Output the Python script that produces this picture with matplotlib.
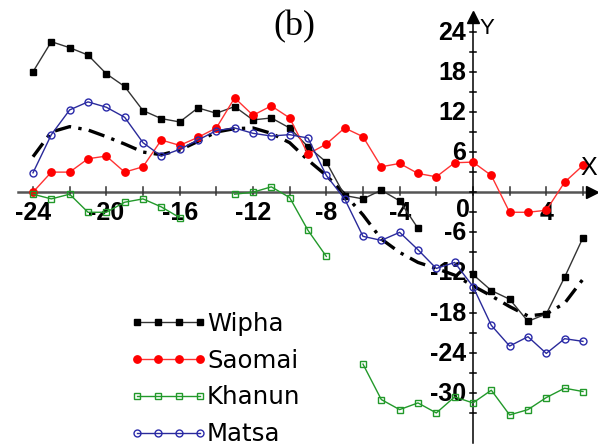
import numpy as np
import matplotlib
matplotlib.use("Agg")
import matplotlib.pyplot as plt
from matplotlib.lines import Line2D
from matplotlib.legend_handler import HandlerLine2D

nan = np.nan
hours = list(range(-24, 7))

wipha = [18, 22.5, 21.6, 20.5, 17.7, 15.8, 12.2, 11, 10.5, 12.6, 11.8, 12.8, 10.8, 11.1, 9.6,
         6.8, 4.5, -0.5, -1, 0.3, -1.3, -5.4, nan, nan, -12.3, -14.7, -16, -19.3, -18.2, -12.7, -6.8]
saomai = [0, 3, 3, 5, 5.4, 3, 3.8, 7.8, 7, 8.2, 9.6, 14.1, 11.5, 12.9, 11.1,
          5.7, 7.2, 9.6, 8.3, 3.8, 4.3, 2.8, 2.3, 4.4, 4.5, 2.5, -3, -3, -2.7, 1.5, 4]
khanun = [-0.3, -1, -0.3, -3, -3, -1.5, -1, -2.2, -3.8, nan, nan, -0.3, 0, 0.8, -0.8,
          -5.7, -9.6, nan, -25.7, -31, -32.5, -31.5, -33, -30.6, -31.5, -29.6, -33.3, -32.5, -30.7, -29.3, -29.8]
matsa = [2.9, 8.6, 12.3, 13.5, 12.7, 11.2, 7.4, 5.4, 6.4, 7.8, 9.2, 9.6, 8.8, 8.4, 8.6,
         8.1, 2.5, -1, -6.6, -7.2, -6, -8.6, -11.4, -10.5, -14.1, -19.9, -23, -21.6, -24.1, -21.9, -22.3]
mean_curve = [5.3, 9, 9.8, 9.3, 8.3, 7.2, 6, 5.6, 6.3, 7.6, 9, 9.5, 9.6, 8.8, 7.4,
              4.8, 2.5, -0.3, -3.4, -7, -9, -10.5, -11.4, -12.4, -14, -15.5, -17.1, -18.5, -18.2, -16.6, -13]

xtick_labels = ["-24", "-20", "-16", "-12", "-8", "-4", "4"]
xtick_pos = [-24, -20, -16, -12, -8, -4, 4]
ytick_labels = ["24", "18", "12", "6", "-6", "-12", "-18", "-24", "-30"]
ytick_pos = [24, 18, 12, 6, -6, -12, -18, -24, -30]

fig = plt.figure(figsize=(5.98, 4.47), dpi=100)
ax = fig.add_axes([0, 0, 1, 1])
ax.set_xlim(-25.80, 6.82)
ax.set_ylim(-38.09, 28.73)
ax.axis('off')

# axes
ax.plot([-24.8, 6.4], [0, 0], color='#555555', lw=1.8, zorder=1)
ax.plot(6.5, 0, marker='>', ms=9, color='k', zorder=1)
for t in range(-24, 7, 2):
    ax.plot([t, t], [-0.4, 0.8], color='#333333', lw=1.1, zorder=1)
ax.plot([0, 0], [-37.5, 25.8], color='k', lw=1.1, zorder=1)
ax.plot(0, 26.2, marker='^', ms=8, color='k', zorder=1)
for t in range(-33, 25, 3):
    ax.plot([-0.18, 0.18], [t, t], color='k', lw=1.1, zorder=1)

tickfont = dict(family='Liberation Sans', weight='bold', size=18)
for p, l in zip(xtick_pos, xtick_labels):
    ax.text(p, -3.1, l, ha='center', va='center', zorder=0, **tickfont)
for p, l in zip(ytick_pos, ytick_labels):
    ax.text(-0.38, p - 0.15, l, ha='right', va='center', zorder=0, **tickfont)
ax.text(-0.15, -2.7, "0", ha='right', va='center', zorder=0, **tickfont)

# mean curve
ax.plot(hours, mean_curve, color='k', lw=2.4, linestyle=(0, (5, 2.2, 1, 2.2)), zorder=3)

lw = 1.0
ax.plot(hours, wipha, color='#333333', lw=lw, marker='s', ms=5, mfc='k', mec='k', label='Wipha', zorder=4)
ax.plot(hours, saomai, color='#ff3333', lw=lw, marker='o', ms=5.3, mfc='#ff0000', mec='#ff0000', label='Saomai', zorder=4)
ax.plot(hours, khanun, color='#22992a', lw=lw, marker='s', ms=5, mfc='none', mec='#22992a', mew=1.0, label='Khanun', zorder=4)
ax.plot(hours, matsa, color='#2a2a9a', lw=lw, marker='o', ms=5, mfc='none', mec='#2a2aaa', mew=1.0, label='Matsa', zorder=4)

leg = ax.legend(loc='upper left', bbox_to_anchor=(137 / 598, 1 - 312 / 447), frameon=False,
                numpoints=4, handlelength=2.58, handletextpad=0.28, labelspacing=0.52,
                borderpad=0, borderaxespad=0, prop=dict(family='DejaVu Sans', size=17.6),
                handler_map={Line2D: HandlerLine2D(marker_pad=0)})

fig.text(294 / 598, 1 - 27 / 447, "(b)", ha='center', va='center', family='Liberation Serif', size=26)
fig.text(487 / 598, 1 - 28 / 447, "Y", ha='center', va='center', family='Liberation Sans', size=16)
fig.text(589 / 598, 1 - 168 / 447, "X", ha='center', va='center', family='Liberation Sans', size=18)

fig.savefig('out.png', dpi=100)
